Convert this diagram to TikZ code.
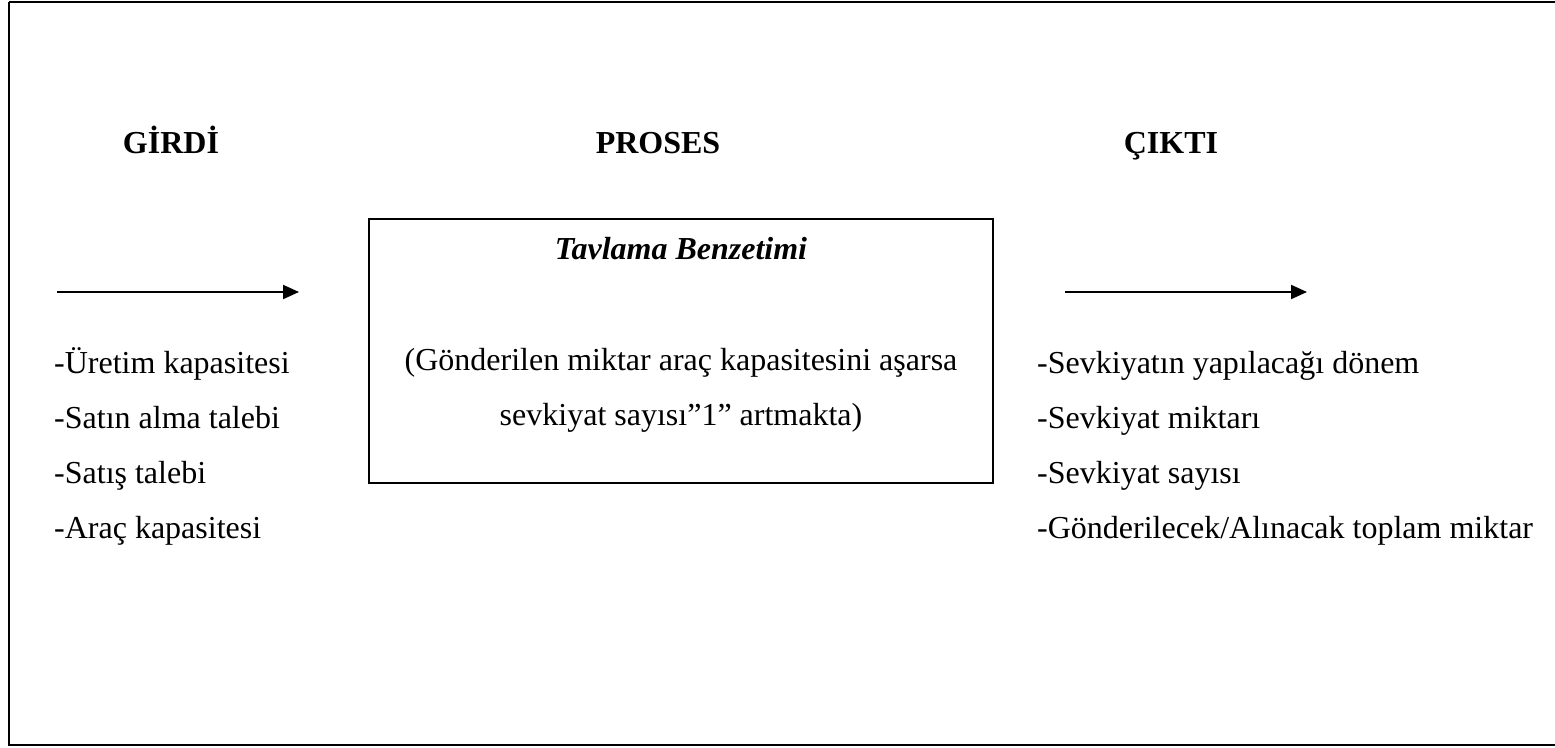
\documentclass[tikz,border=0pt]{standalone}
\usepackage{fontspec}
\setmainfont{Liberation Serif}
\usetikzlibrary{arrows.meta}
\begin{document}
\begin{tikzpicture}[x=1pt,y=-1pt,
  txt/.style={inner sep=0pt,font=\fontsize{32}{38}\selectfont},
  head/.style={txt,font=\fontsize{32}{38}\selectfont\bfseries},
  item/.style={txt,anchor=base west},
  flow/.style={line width=2pt,-{Triangle[length=16pt,width=14pt]}},
  frame/.style={line width=2pt}]
\useasboundingbox (0,0) rectangle (1555,747);
% outer frame (right side runs off the page)
\draw[frame] (9,2) -- (1575,2) (9,2) -- (9,745) -- (1575,745);

% column headings
\node[head,anchor=base] (girdi)  at (171,153) {GİRDİ};
\node[head,anchor=base] (proses) at (658,153) {PROSES};
\node[head,anchor=base] (cikti)  at (1171,153) {ÇIKTI};

% input arrow and list
\coordinate (ina) at (57,292);
\coordinate (inb) at (299,292);
\draw[flow] (ina) -- (inb);
\node[item] (i1) at (54,373) {-Üretim kapasitesi};
\node[item] (i2) at (54,428) {-Satın alma talebi};
\node[item] (i3) at (54,483) {-Satış talebi};
\node[item] (i4) at (54,538) {-Araç kapasitesi};

% process box
\node[draw,line width=2pt,minimum width=624pt,minimum height=264pt,inner sep=0pt]
  (box) at (681,351) {};
\node[txt,anchor=base,font=\fontsize{32}{38}\selectfont\bfseries\itshape]
  (title) at (681,259) {Tavlama Benzetimi};
\node[txt,anchor=base] (p1) at (681,370) {(Gönderilen miktar araç kapasitesini aşarsa};
\node[txt,anchor=base] (p2) at (681,425) {sevkiyat sayısı”1” artmakta)};

% output arrow and list
\coordinate (outa) at (1065,292);
\coordinate (outb) at (1307,292);
\draw[flow] (outa) -- (outb);
\node[item] (o1) at (1037,373) {-Sevkiyatın yapılacağı dönem};
\node[item] (o2) at (1037,428) {-Sevkiyat miktarı};
\node[item] (o3) at (1037,483) {-Sevkiyat sayısı};
\node[item] (o4) at (1037,538) {-Gönderilecek/Alınacak toplam miktar};
\end{tikzpicture}
\end{document}
